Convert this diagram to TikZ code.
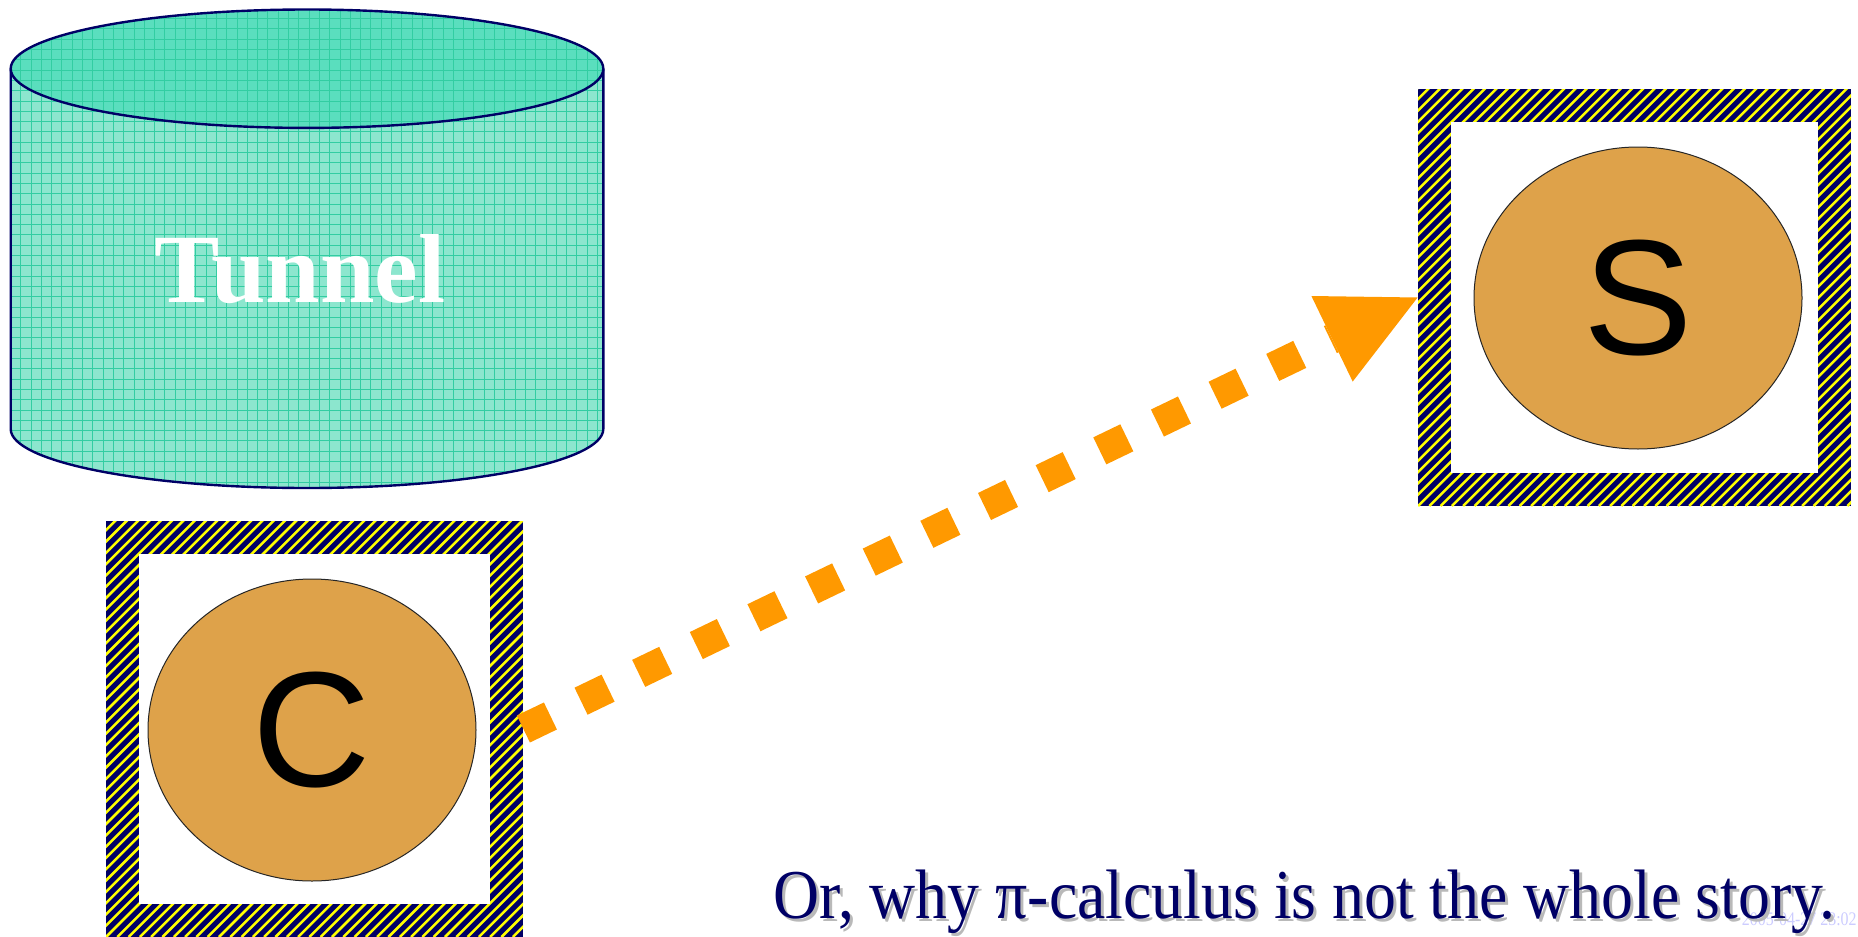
\documentclass[tikz,border=0pt]{standalone}
\usepackage{graphicx}
\usepackage{fontspec}
\setmainfont{Liberation Serif}
\newfontfamily\arialf{Liberation Sans}
\usetikzlibrary{shapes.geometric,arrows.meta,calc}
\definecolor{navyc}{RGB}{0,0,102}
\definecolor{stripey}{RGB}{255,255,0}
\definecolor{orangec}{RGB}{255,153,0}
\definecolor{ellfill}{RGB}{222,162,74}
\definecolor{cylbody}{RGB}{140,230,206}
\definecolor{cyltop}{RGB}{90,222,190}
\definecolor{cylgrid}{RGB}{50,205,162}
\definecolor{shadowc}{RGB}{185,185,185}
\definecolor{stampc}{RGB}{204,204,255}
\tikzset{
  hatchbox/.style={rectangle, inner sep=0pt, fill=navyc, path picture={
    \foreach \i in {-42,...,42} {
      \draw[stripey, line width=1.25pt]
        ($(path picture bounding box.south west)+(\i*5.65pt,0pt)$) -- ++(260pt,260pt);
    }
    \fill[white] ($(path picture bounding box.south west)+(16.5pt,16.5pt)$)
      rectangle ($(path picture bounding box.north east)+(-16.5pt,-16.5pt)$);
  }},
  agent/.style={ellipse, draw=black!85, line width=0.5pt, fill=ellfill, inner sep=0pt,
    minimum width=164pt, minimum height=151pt, font=\arialf\fontsize{82}{90}\selectfont},
  gridline/.style={cylgrid, line width=0.5pt},
  cyloutline/.style={navyc, line width=1.2pt},
  flow/.style={orangec, line width=15pt, dash pattern=on 15pt off 17pt,
    -{Triangle[length=47.5pt, width=47.5pt, line width=0pt]}},
  subtitle/.style={anchor=base west, inner sep=0pt, font=\fontsize{35}{40}\selectfont}
}
\begin{document}
\begin{tikzpicture}[x=0.5pt,y=-0.5pt]
\useasboundingbox (0,0) rectangle (1858,937);

% ---- cylinder "Tunnel" ----
\fill[cylbody] (10.7,68.7) -- (10.7,429) .. controls (10.7,461.6) and (143.4,488) .. (307,488)
  .. controls (470.6,488) and (603.3,461.6) .. (603.3,429) -- (603.3,68.7) -- cycle;
\begin{scope}
  \clip (10.7,68.7) -- (10.7,429) .. controls (10.7,461.6) and (143.4,488) .. (307,488)
    .. controls (470.6,488) and (603.3,461.6) .. (603.3,429) -- (603.3,68.7) -- cycle;
  \foreach \k in {0,...,58} \draw[gridline] (10.4+10.3*\k,0) -- (10.4+10.3*\k,500);
  \foreach \k in {0,...,48} \draw[gridline] (0,8.3+10.3*\k) -- (620,8.3+10.3*\k);
\end{scope}
\fill[cyltop] (307,68.7) ellipse [x radius=296.3, y radius=59.2];
\begin{scope}
  \clip (307,68.7) ellipse [x radius=296.3, y radius=59.2];
  \foreach \k in {0,...,58} \draw[gridline] (10.4+10.3*\k,0) -- (10.4+10.3*\k,140);
  \foreach \k in {0,...,13} \draw[gridline] (0,8.3+10.3*\k) -- (620,8.3+10.3*\k);
\end{scope}
\draw[cyloutline] (10.7,68.7) -- (10.7,429) .. controls (10.7,461.6) and (143.4,488) .. (307,488)
  .. controls (470.6,488) and (603.3,461.6) .. (603.3,429) -- (603.3,68.7);
\draw[cyloutline] (307,68.7) ellipse [x radius=296.3, y radius=59.2];
\node[text=white, anchor=base, inner sep=0pt, font=\bfseries\fontsize{49}{56}\selectfont] (tunnel) at (300,302) {Tunnel};

% ---- hatched boxes ----
\node[hatchbox, minimum width=208.5pt, minimum height=208pt] (cbox) at (314.5,729) {};
\node[hatchbox, minimum width=216.5pt, minimum height=208.5pt] (sbox) at (1634.5,297.5) {};

\node[agent] (c) at (312,730) {C};
\node[agent] (s) at (1638,298) {S};

% ---- dotted arrow ----
\draw[flow] (cbox.east) -- (sbox.west);

% ---- caption ----
\node[anchor=base east, inner sep=0pt, text=stampc, font=\fontsize{9.6}{11}\selectfont] (stamp)
  at (1857,925) {\scalebox{0.83}[1]{2005-04-27 23:02}};
\node[subtitle, text=shadowc] (capshadow) at (776,921)
  {\scalebox{0.911}[1]{Or, why π-calculus is not the whole story.}};
\node[subtitle, text=navyc] (caption) at (773,918)
  {\scalebox{0.911}[1]{Or, why π-calculus is not the whole story.}};
\end{tikzpicture}
\end{document}
